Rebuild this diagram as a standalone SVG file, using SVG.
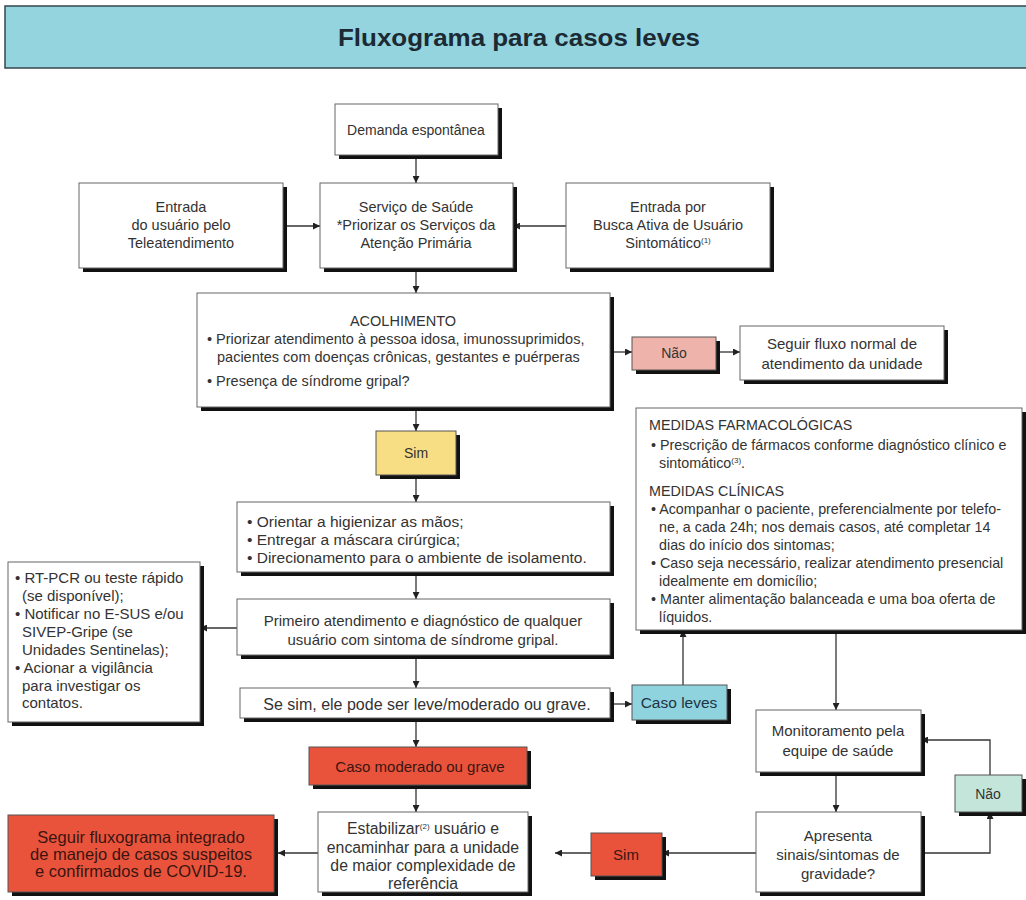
<svg xmlns="http://www.w3.org/2000/svg" width="1026" height="900" viewBox="0 0 1026 900">
<defs>
<marker id="ah" viewBox="0 0 10 10" refX="10" refY="5" markerWidth="7" markerHeight="7" markerUnits="userSpaceOnUse" orient="auto">
<path d="M0,0 L10,5 L0,10 z" fill="#222"/>
</marker>
<style>
.sh{fill:#111}
.bx{fill:#fff;stroke:#666;stroke-width:1}
.t{font-family:"Liberation Sans",Arial,sans-serif;fill:#333}
.c{text-anchor:middle}
.ln{fill:none;stroke:#333;stroke-width:1.3;marker-end:url(#ah)}
.red{fill:#e9533b;stroke:#555;stroke-width:1}
.rt{font-family:"Liberation Sans",Arial,sans-serif;fill:#3a1510;text-anchor:middle}
.sup{font-size:8px}
</style>
</defs>
<rect width="1026" height="900" fill="#fff"/>
<g id="title">
<rect x="5" y="6" width="1024" height="62" fill="#93d4df" stroke="#34474b" stroke-width="1.5"/>
<text x="519" y="46" text-anchor="middle" font-family="Liberation Sans,Arial,sans-serif" font-size="24" font-weight="bold" fill="#1c2a33" textLength="362" lengthAdjust="spacingAndGlyphs">Fluxograma para casos leves</text>
</g>
<g id="connectors">
<line class="ln" x1="416" y1="155" x2="416" y2="183"/>
<line class="ln" x1="283" y1="226" x2="320" y2="226"/>
<line class="ln" x1="566" y1="226" x2="513" y2="226"/>
<line class="ln" x1="416" y1="268" x2="416" y2="293"/>
<line class="ln" x1="610" y1="352" x2="632" y2="352"/>
<line class="ln" x1="716" y1="352" x2="740" y2="352"/>
<line class="ln" x1="416" y1="407" x2="416" y2="431"/>
<line class="ln" x1="416" y1="476" x2="416" y2="502"/>
<line class="ln" x1="416" y1="572" x2="416" y2="599"/>
<line class="ln" x1="237" y1="628" x2="200" y2="628"/>
<line class="ln" x1="416" y1="655" x2="416" y2="688"/>
<line class="ln" x1="610" y1="704" x2="632" y2="704"/>
<line class="ln" x1="683" y1="685" x2="683" y2="630"/>
<line class="ln" x1="416" y1="718" x2="416" y2="747"/>
<line class="ln" x1="416" y1="785" x2="416" y2="812"/>
<line class="ln" x1="836" y1="630" x2="836" y2="710"/>
<line class="ln" x1="836" y1="772" x2="836" y2="812"/>
<polyline class="ln" points="921,853 990,853 990,812"/>
<polyline class="ln" points="990,775 990,740 921,740"/>
<line class="ln" x1="756" y1="853" x2="662" y2="853"/>
<line class="ln" x1="591" y1="853" x2="555" y2="853"/>
<line class="ln" x1="318" y1="853" x2="278" y2="853"/>
</g>
<g id="demanda" font-size="14">
<rect class="sh" x="339" y="108" width="163" height="51"/>
<rect class="bx" x="335" y="104" width="163" height="51"/>
<text class="t c" x="416" y="135">Demanda espontânea</text>
</g>
<g id="servico" font-size="14.5">
<rect class="sh" x="324" y="187" width="193" height="85"/>
<rect class="bx" x="320" y="183" width="193" height="85"/>
<text class="t c" x="416" y="212">Serviço de Saúde</text>
<text class="t c" x="416" y="230">*Priorizar os Serviços da</text>
<text class="t c" x="416" y="248">Atenção Primária</text>
</g>
<g id="teleatendimento" font-size="14.5">
<rect class="sh" x="83" y="187" width="204" height="85"/>
<rect class="bx" x="79" y="183" width="204" height="85"/>
<text class="t c" x="181" y="212">Entrada</text>
<text class="t c" x="181" y="230">do usuário pelo</text>
<text class="t c" x="181" y="248">Teleatendimento</text>
</g>
<g id="busca-ativa" font-size="14.5">
<rect class="sh" x="570" y="187" width="204" height="85"/>
<rect class="bx" x="566" y="183" width="204" height="85"/>
<text class="t c" x="668" y="212">Entrada por</text>
<text class="t c" x="668" y="230">Busca Ativa de Usuário</text>
<text class="t c" x="668" y="248">Sintomático<tspan class="sup" dy="-5">(1)</tspan></text>
</g>
<g id="acolhimento" font-size="14.5">
<rect class="sh" x="201" y="297" width="413" height="114"/>
<rect class="bx" x="197" y="293" width="413" height="114"/>
<text class="t c" x="403" y="326">ACOLHIMENTO</text>
<text class="t" x="207" y="344">• Priorizar atendimento à pessoa idosa, imunossuprimidos,</text>
<text class="t" x="217" y="362">pacientes com doenças crônicas, gestantes e puérperas</text>
<text class="t" x="207" y="386">• Presença de síndrome gripal?</text>
</g>
<g id="nao1" font-size="14">
<rect class="sh" x="636" y="341" width="84" height="33"/>
<rect x="632" y="337" width="84" height="33" fill="#eeb3ab" stroke="#555" stroke-width="1"/>
<text class="t c" x="674" y="358">Não</text>
</g>
<g id="fluxo-normal" font-size="15">
<rect class="sh" x="744" y="330" width="204" height="54"/>
<rect class="bx" x="740" y="326" width="204" height="54"/>
<text class="t c" x="842" y="349">Seguir fluxo normal de</text>
<text class="t c" x="842" y="369">atendimento da unidade</text>
</g>
<g id="sim1" font-size="14">
<rect class="sh" x="380" y="435" width="80" height="44"/>
<rect x="376" y="431" width="80" height="44" fill="#f7dd84" stroke="#555" stroke-width="1"/>
<text class="t c" x="416" y="458">Sim</text>
</g>
<g id="orientacoes" font-size="15.5">
<rect class="sh" x="241" y="506" width="373" height="70"/>
<rect class="bx" x="237" y="502" width="373" height="70"/>
<text class="t" x="247" y="527">• Orientar a higienizar as mãos;</text>
<text class="t" x="247" y="545">• Entregar a máscara cirúrgica;</text>
<text class="t" x="247" y="563">• Direcionamento para o ambiente de isolamento.</text>
</g>
<g id="primeiro-atendimento" font-size="15">
<rect class="sh" x="241" y="603" width="373" height="56"/>
<rect class="bx" x="237" y="599" width="373" height="56"/>
<text class="t c" x="423" y="626">Primeiro atendimento e diagnóstico de qualquer</text>
<text class="t c" x="423" y="645">usuário com sintoma de síndrome gripal.</text>
</g>
<g id="vigilancia" font-size="15">
<rect class="sh" x="12" y="566" width="192" height="160"/>
<rect class="bx" x="8" y="562" width="192" height="160"/>
<text class="t" x="15" y="583">• RT-PCR ou teste rápido</text>
<text class="t" x="22" y="601">(se disponível);</text>
<text class="t" x="15" y="619">• Notificar no E-SUS e/ou</text>
<text class="t" x="22" y="637">SIVEP-Gripe (se</text>
<text class="t" x="22" y="655">Unidades Sentinelas);</text>
<text class="t" x="15" y="673">• Acionar a vigilância</text>
<text class="t" x="22" y="691">para investigar os</text>
<text class="t" x="22" y="708">contatos.</text>
</g>
<g id="se-sim" font-size="16">
<rect class="sh" x="244" y="692" width="370" height="30"/>
<rect class="bx" x="240" y="688" width="370" height="30"/>
<text class="t c" x="427" y="710">Se sim, ele pode ser leve/moderado ou grave.</text>
</g>
<g id="caso-leves" font-size="15.5">
<rect class="sh" x="636" y="689" width="95" height="35"/>
<rect x="632" y="685" width="95" height="35" fill="#8fd3df" stroke="#555" stroke-width="1"/>
<text class="t c" x="679" y="708" style="fill:#234">Caso leves</text>
</g>
<g id="medidas" font-size="14.3">
<rect class="sh" x="640" y="412" width="386" height="222"/>
<rect class="bx" x="636" y="408" width="386" height="222"/>
<text class="t" x="649" y="430">MEDIDAS FARMACOLÓGICAS</text>
<text class="t" x="651" y="450">• Prescrição de fármacos conforme diagnóstico clínico e</text>
<text class="t" x="659" y="468">sintomático<tspan class="sup" dy="-5">(3)</tspan><tspan dy="5">.</tspan></text>
<text class="t" x="649" y="496">MEDIDAS CLÍNICAS</text>
<text class="t" x="651" y="514">• Acompanhar o paciente, preferencialmente por telefo-</text>
<text class="t" x="659" y="532">ne, a cada 24h; nos demais casos, até completar 14</text>
<text class="t" x="659" y="550">dias do início dos sintomas;</text>
<text class="t" x="651" y="568">• Caso seja necessário, realizar atendimento presencial</text>
<text class="t" x="659" y="586">idealmente em domicílio;</text>
<text class="t" x="651" y="604">• Manter alimentação balanceada e uma boa oferta de</text>
<text class="t" x="659" y="622">líquidos.</text>
</g>
<g id="moderado-grave" font-size="15">
<rect class="sh" x="313" y="751" width="218" height="38"/>
<rect class="red" x="309" y="747" width="218" height="38"/>
<text class="rt" x="420" y="772">Caso moderado ou grave</text>
</g>
<g id="monitoramento" font-size="15">
<rect class="sh" x="760" y="714" width="165" height="62"/>
<rect class="bx" x="756" y="710" width="165" height="62"/>
<text class="t c" x="838" y="736">Monitoramento pela</text>
<text class="t c" x="838" y="756">equipe de saúde</text>
</g>
<g id="nao2" font-size="14">
<rect class="sh" x="959" y="779" width="67" height="37"/>
<rect x="955" y="775" width="67" height="37" fill="#c4e6da" stroke="#555" stroke-width="1"/>
<text class="t c" x="988" y="799">Não</text>
</g>
<g id="apresenta" font-size="15">
<rect class="sh" x="760" y="816" width="165" height="80"/>
<rect class="bx" x="756" y="812" width="165" height="80"/>
<text class="t c" x="838" y="841">Apresenta</text>
<text class="t c" x="838" y="860">sinais/sintomas de</text>
<text class="t c" x="838" y="879">gravidade?</text>
</g>
<g id="sim2" font-size="15">
<rect class="sh" x="595" y="837" width="71" height="43"/>
<rect class="red" x="591" y="833" width="71" height="43"/>
<text class="rt" x="626" y="860">Sim</text>
</g>
<g id="estabilizar" font-size="15.8">
<rect class="sh" x="322" y="816" width="210" height="80"/>
<rect class="bx" x="318" y="812" width="210" height="80"/>
<text class="t c" x="423" y="834">Estabilizar<tspan class="sup" dy="-5">(2)</tspan><tspan dy="5"> usuário e</tspan></text>
<text class="t c" x="423" y="853">encaminhar para a unidade</text>
<text class="t c" x="423" y="871">de maior complexidade de</text>
<text class="t c" x="423" y="889">referência</text>
</g>
<g id="fluxograma-covid" font-size="16.5">
<rect class="sh" x="12" y="819" width="266" height="77"/>
<rect class="red" x="8" y="815" width="266" height="77"/>
<text class="rt" x="141" y="843">Seguir fluxograma integrado</text>
<text class="rt" x="141" y="860">de manejo de casos suspeitos</text>
<text class="rt" x="141" y="877">e confirmados de COVID-19.</text>
</g>
</svg>
